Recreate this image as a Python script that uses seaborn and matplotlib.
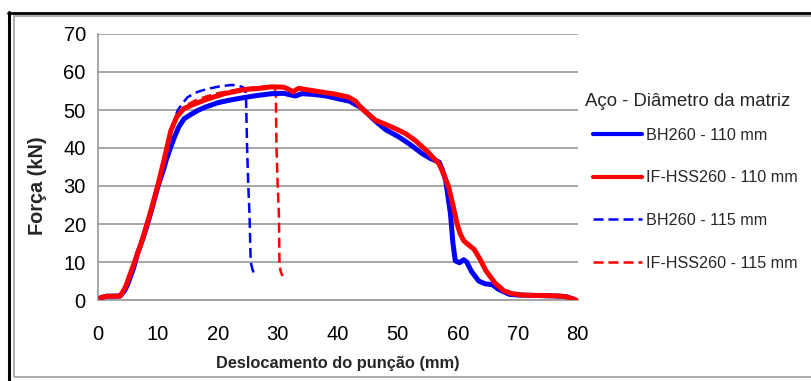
import numpy as np
import pandas as pd
import matplotlib
matplotlib.use("Agg")
import matplotlib.pyplot as plt
from matplotlib.lines import Line2D
from matplotlib.patches import Rectangle
import seaborn as sns

# ---------------- data ----------------
x_bh110 = [0.5, 1.5, 2.5, 3.8, 4.5, 5.0, 6.0, 6.6, 7.5, 8.3, 9.2, 10.0, 11.0, 11.4, 12.0,
           12.8, 13.5, 14.4, 15.5, 16.7, 18.0, 20.0, 22.0, 24.5, 26.5, 29.0, 31.0, 32.3,
           33.0, 34.0, 36.0, 38.0, 40.0, 42.0, 44.0, 46.0, 46.8, 48.0, 50.2, 52.0, 54.1,
           55.5, 56.9, 57.4, 58.0, 58.4, 58.8, 59.2, 59.6, 60.3, 61.0, 61.5, 62.3, 63.5,
           64.5, 65.8, 66.8, 68.6, 70.0, 73.0, 76.3, 78.0, 79.4]
y_bh110 = [0.6, 1.0, 1.0, 1.1, 2.5, 4.1, 8.5, 12.1, 16.0, 20.0, 25.0, 29.7, 34.5, 36.7, 39.5,
           42.9, 45.5, 47.7, 48.8, 49.9, 50.8, 51.9, 52.6, 53.3, 53.8, 54.3, 54.4, 53.9,
           53.7, 54.3, 54.1, 53.7, 53.0, 52.3, 50.5, 47.5, 46.4, 44.8, 42.9, 41.0, 38.5,
           37.2, 36.3, 34.5, 31.4, 27.0, 22.6, 15.0, 10.3, 9.8, 10.6, 10.0, 7.5, 5.0,
           4.3, 4.0, 2.8, 1.5, 1.3, 1.2, 1.06, 0.9, 0.2]

x_if110 = [0.5, 1.5, 2.5, 3.7, 4.2, 4.7, 5.8, 7.2, 8.6, 10.0, 11.0, 12.2, 13.2, 14.4, 16.0,
           17.8, 19.5, 21.1, 23.0, 24.5, 27.0, 29.0, 31.0, 32.0, 32.5, 33.5, 35.0, 37.0,
           39.5, 41.8, 43.0, 44.0, 46.3, 48.0, 49.6, 51.3, 52.9, 55.0, 56.9, 57.7, 58.5,
           59.2, 59.9, 60.4, 61.0, 61.8, 62.7, 63.7, 64.7, 66.2, 67.7, 69.0, 70.8, 73.0,
           76.3, 78.0, 79.7]
y_if110 = [0.6, 1.0, 1.0, 1.0, 2.2, 3.7, 8.5, 14.7, 22.0, 30.0, 36.5, 44.6, 48.3, 50.4, 51.5,
           52.6, 53.5, 54.3, 54.9, 55.4, 55.7, 56.1, 56.0, 55.3, 54.8, 55.7, 55.3, 54.8,
           54.2, 53.4, 52.3, 50.4, 47.3, 46.2, 45.1, 43.8, 42.0, 39.0, 35.8, 33.0, 29.7,
           25.0, 20.0, 17.5, 15.6, 14.5, 13.4, 10.8, 7.7, 4.5, 2.4, 1.7, 1.3, 1.2,
           1.1, 0.9, 0.0]

x_bh115 = [0.5, 2.0, 3.6, 4.5, 5.8, 7.2, 8.6, 10.0, 11.2, 12.2, 13.3, 14.0, 15.0, 16.7,
           18.4, 20.3, 22.3, 23.4, 24.2, 24.7, 24.9, 25.1, 25.3, 25.5, 25.8, 26.0]
y_bh115 = [0.6, 1.0, 1.0, 2.8, 8.0, 14.5, 22.0, 30.5, 38.0, 44.5, 49.8, 51.5, 53.4, 54.8,
           55.6, 56.2, 56.6, 56.4, 56.0, 54.5, 40.2, 30.0, 22.6, 10.0, 8.0, 7.2]

x_if115 = [0.5, 2.0, 3.6, 4.5, 5.8, 7.2, 8.6, 10.0, 11.2, 12.2, 13.3, 14.5, 16.0, 18.0,
           20.0, 22.0, 24.0, 26.0, 28.0, 29.0, 29.5, 29.7, 29.8, 30.0, 30.2, 30.3, 30.5, 30.8]
y_if115 = [0.6, 1.0, 1.0, 2.8, 8.5, 14.8, 22.5, 30.5, 37.5, 44.0, 48.5, 51.0, 52.3, 53.5,
           54.4, 55.0, 55.6, 55.9, 56.2, 56.3, 56.0, 53.4, 40.2, 30.0, 22.6, 9.4, 7.5, 6.3]

labels = ["BH260 - 110 mm", "IF-HSS260 - 110 mm", "BH260 - 115 mm", "IF-HSS260 - 115 mm"]
legend_title = "Aço - Diâmetro da matriz"
x_ticks = [0, 10, 20, 30, 40, 50, 60, 70, 80]
y_ticks = [0, 10, 20, 30, 40, 50, 60, 70]
x_label = "Deslocamento do punção (mm)"
y_label = "Força (kN)"

# ---------------- figure ----------------
sns.set_style("white")
plt.rcParams["font.family"] = ["Liberation Sans", "DejaVu Sans"]

W, H = 811, 381
fig = plt.figure(figsize=(W / 100, H / 100), dpi=100)
ax = fig.add_axes([97.7 / W, (H - 300) / H, 480 / W, 266 / H])

BLUE = "#0000FF"
RED = "#FF0000"
GRID = "#A0A0A0"

series = [
    (x_bh110, y_bh110, BLUE, "-", 3.6),
    (x_if110, y_if110, RED, "-", 3.6),
    (x_bh115, y_bh115, BLUE, (0, (4, 2)), 1.8),
    (x_if115, y_if115, RED, (0, (4, 2)), 1.8),
]
# draw dashed first so the thick solid lines sit above
order = [2, 3, 0, 1]
for i in order:
    xs, ys, c, ls, lw = series[i]
    df = pd.DataFrame({"x": xs, "y": ys})
    sns.lineplot(data=df, x="x", y="y", ax=ax, color=c, linestyle=ls, linewidth=lw,
                 sort=False, estimator=None, label=labels[i], zorder=3 if ls == "-" else 2.5)

ax.set_xlim(0, 80)
ax.set_ylim(0, 70)
ax.set_xticks(x_ticks)
ax.set_yticks(y_ticks)
ax.yaxis.grid(True, color=GRID, linewidth=1.3)
ax.set_axisbelow(True)
for s in ["top", "right"]:
    ax.spines[s].set_visible(False)
for s in ["left", "bottom"]:
    ax.spines[s].set_color(GRID)
    ax.spines[s].set_linewidth(1.3)
ax.tick_params(axis="both", which="major", direction="out", color=GRID, width=1.3,
               labelsize=14.5, labelcolor="black")
ax.tick_params(axis="x", length=4.3, pad=14)
ax.tick_params(axis="y", length=3.6, pad=5)

ax.set_xlabel(x_label, fontsize=11.8, fontweight="bold")
ax.set_ylabel(y_label, fontsize=14.3, fontweight="bold")
ax.xaxis.set_label_coords(0.5, -0.21)
ax.yaxis.set_label_coords(-0.105, 0.43)

# legend
handles, labs = ax.get_legend_handles_labels()
hmap = dict(zip(labs, handles))
leg = ax.legend([hmap[l] for l in labels], labels, loc="upper left",
                bbox_to_anchor=(593 / W, 1 - 127.5 / H), bbox_transform=fig.transFigure,
                frameon=False, fontsize=11.6, handlelength=3.06, handletextpad=0.25,
                labelspacing=1.72, borderpad=0, borderaxespad=0)
for lh in leg.get_lines():
    if lh.get_linestyle() == "-":
        lh.set_linewidth(3.0)
fig.text(585 / W, 1 - 102 / H, legend_title, fontsize=13.4, ha="left", va="center")

# chart frame (Excel-like border)
fig.add_artist(Line2D([8 / W, 1.0], [1 - 13 / H, 1 - 13 / H], transform=fig.transFigure,
                      color="black", linewidth=2.0))
fig.add_artist(Line2D([9 / W, 9 / W], [1 - 12 / H, 0.0], transform=fig.transFigure,
                      color="black", linewidth=2.2))
fig.add_artist(Rectangle((13.5 / W, (H - 377) / H), (W + 10) / W, (377 - 16) / H,
                         transform=fig.transFigure, fill=False, edgecolor=GRID,
                         linewidth=1.2))

fig.savefig("out.png", dpi=100)
